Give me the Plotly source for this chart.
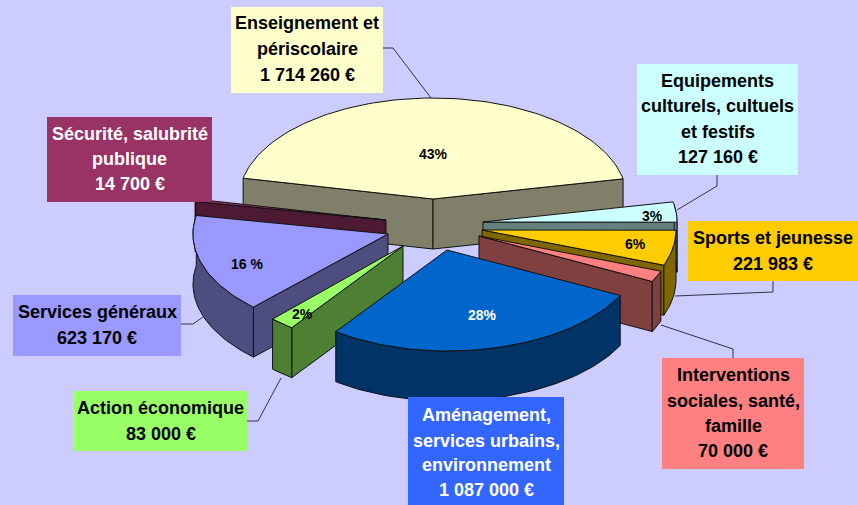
import math
import plotly.graph_objects as go

# ---- data ----
categories = ["Enseignement et périscolaire", "Equipements culturels, cultuels et festifs",
              "Sports et jeunesse", "Interventions sociales, santé, famille",
              "Aménagement, services urbains, environnement", "Action économique",
              "Services généraux", "Sécurité, salubrité publique"]
values = [1714260, 127160, 221983, 70000, 1087000, 83000, 623170, 14700]
value_labels = ["1 714 260 €", "127 160 €", "221 983 €", "70 000 €",
                "1 087 000 €", "83 000 €", "623 170 €", "14 700 €"]
percent_labels = ["43%", "3%", "6%", "", "28%", "2%", "16 %", ""]
label_lines = [["Enseignement et", "périscolaire"],
               ["Equipements", "culturels, cultuels", "et festifs"],
               ["Sports et jeunesse"],
               ["Interventions", "sociales, santé,", "famille"],
               ["Aménagement,", "services urbains,", "environnement"],
               ["Action économique"],
               ["Services généraux"],
               ["Sécurité, salubrité", "publique"]]

# ---- styles / layout ----
top_colors = ["#FFFFCC", "#CCFFFF", "#FFCC00", "#FF8080", "#0066CC", "#99FF66", "#9999FF", "#993366"]
side_colors = ["#80806A", "#668080", "#806600", "#804040", "#003366", "#4D8033", "#4D4D80", "#4D1A33"]
apex = [(433, 199), (483, 222), (482, 230), (479, 236), (447, 250), (403, 246), (388, 234), (386, 220)]
rx_left = [194, 194, 194, 194, 189, 189, 195, 194]
box = [(231, 7, 383, 93), (637, 64, 798, 175), (688, 221, 858, 281), (662, 358, 804, 469),
       (408, 397, 564, 505), (74, 391, 247, 451), (13, 295, 181, 356), (47, 117, 212, 202)]
line_y = [[23, 49, 75], [81, 106, 132, 157], [238, 264], [375, 401, 426, 451],
          [415, 441, 465, 490], [408, 434], [312, 338], [134, 159, 184]]
text_colors = ["black", "black", "black", "black", "white", "black", "black", "white"]
pct_pos = [(433, 154), (652, 216), (635, 244), None, (482, 315), (302, 314), (247, 264), None]
leaders = ["M383,48 L393,48 L431,98", "M717,175 L717,186 L677,210", "M773,281 L773,292 L675,296",
           "M733,358 L733,349 L661,325", "M247,421 L258,421 L281,378", "M181,324 L193,324 L203,317"]
RX, RY, DEPTH = 194, 101, 50
START = -78.1
draw_order = [0, 7, 6, 1, 2, 3, 5, 4]

total = sum(values)
spans = []
a = START
for v in values:
    spans.append((a, a + 360 * v / total))
    a += 360 * v / total


def point(i, deg):
    cx, cy = apex[i]
    s = math.sin(math.radians(deg))
    return (cx + (RX if s >= 0 else rx_left[i]) * s, cy - RY * math.cos(math.radians(deg)))


def arc_angles(i):
    a0, a1 = spans[i]
    n = max(2, int((a1 - a0) / 1.5))
    return [a0 + (a1 - a0) * k / n for k in range(n + 1)]


def poly(fig, pts, color):
    xs = [p[0] for p in pts] + [pts[0][0]]
    ys = [p[1] for p in pts] + [pts[0][1]]
    fig.add_trace(go.Scatter(x=xs, y=ys, mode="lines", fill="toself", fillcolor=color,
                             line=dict(color="#111111", width=1), hoverinfo="skip", showlegend=False))


def down(pts):
    return [(x, y + DEPTH) for x, y in pts]


fig = go.Figure()
for i in draw_order:
    angles = arc_angles(i)
    pts = [point(i, t) for t in angles]
    c = apex[i]
    # radial cut faces, only those turned towards the viewer
    a0, a1 = spans[i]
    if math.sin(math.radians(a0)) < 0:
        poly(fig, [c, pts[0], (pts[0][0], pts[0][1] + DEPTH), (c[0], c[1] + DEPTH)], side_colors[i])
    if math.sin(math.radians(a1)) > 0:
        poly(fig, [c, pts[-1], (pts[-1][0], pts[-1][1] + DEPTH), (c[0], c[1] + DEPTH)], side_colors[i])
    # outer wall, front part only
    front = [point(i, t) for t in angles if math.cos(math.radians(t)) <= 0.195]
    if len(front) > 1:
        poly(fig, front + down(front)[::-1], side_colors[i])
    poly(fig, [c] + pts, top_colors[i])

shapes = [dict(type="path", path=p, line=dict(color="#333344", width=1), layer="below") for p in leaders]
annotations = []
for i in range(len(values)):
    x0, y0, x1, y1 = box[i]
    shapes.append(dict(type="rect", x0=x0, y0=y0, x1=x1, y1=y1, fillcolor=top_colors[i] if i != 4 else "#3366FF",
                       line=dict(width=0), layer="above"))
    lines = label_lines[i] + [value_labels[i]]
    for text, y in zip(lines, line_y[i]):
        annotations.append(dict(x=(x0 + x1) / 2, y=y, text=text, showarrow=False, xanchor="center", yanchor="middle",
                                font=dict(family="Liberation Sans", size=18, color=text_colors[i], weight="bold")))
    if pct_pos[i]:
        annotations.append(dict(x=pct_pos[i][0], y=pct_pos[i][1], text=percent_labels[i], showarrow=False,
                                font=dict(family="Liberation Sans", size=14, weight="bold",
                                          color="white" if i == 4 else "black")))

fig.update_layout(width=858, height=505, margin=dict(l=0, r=0, t=0, b=0), paper_bgcolor="#CCCCFF",
                  plot_bgcolor="#CCCCFF", showlegend=False, shapes=shapes, annotations=annotations,
                  xaxis=dict(range=[0, 858], visible=False, fixedrange=True),
                  yaxis=dict(range=[505, 0], visible=False, fixedrange=True))
fig.write_html("out.html", config=dict(displayModeBar=False),
               post_script="document.body.style.margin='0';document.body.style.overflow='hidden';"
                           "document.body.style.background='#CCCCFF';")
